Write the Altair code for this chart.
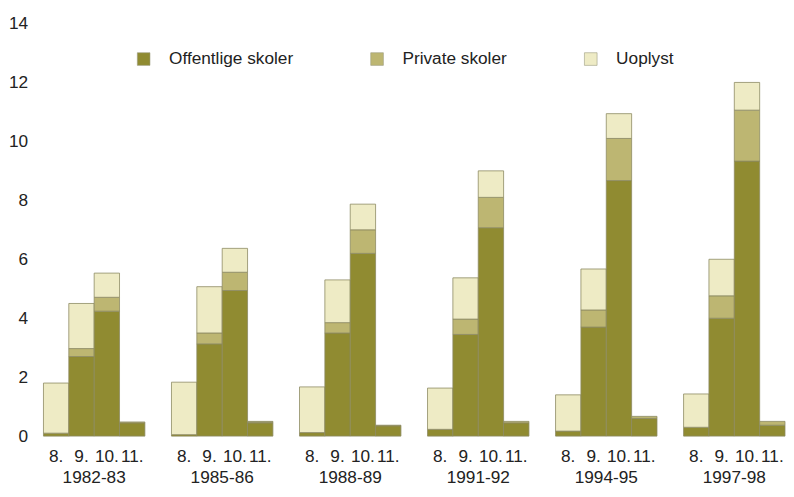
import altair as alt
import pandas as pd

periods = ["1982-83", "1985-86", "1988-89", "1991-92", "1994-95", "1997-98"]
grades = ["8.", "9.", "10.", "11."]
series = ["Offentlige skoler", "Private skoler", "Uoplyst"]
colors = ["#908b31", "#bdb672", "#eeebc5"]

# values per period, in grade order 8., 9., 10., 11.
offentlige = [
    [0.10, 2.70, 4.24, 0.45],
    [0.05, 3.13, 4.94, 0.45],
    [0.12, 3.50, 6.20, 0.35],
    [0.23, 3.45, 7.07, 0.45],
    [0.17, 3.70, 8.67, 0.60],
    [0.30, 4.00, 9.33, 0.37],
]
private = [
    [0.00, 0.27, 0.47, 0.03],
    [0.00, 0.37, 0.62, 0.03],
    [0.00, 0.35, 0.80, 0.02],
    [0.00, 0.52, 1.03, 0.05],
    [0.00, 0.58, 1.43, 0.07],
    [0.00, 0.76, 1.73, 0.13],
]
uoplyst = [
    [1.70, 1.53, 0.82, 0.00],
    [1.78, 1.57, 0.81, 0.02],
    [1.55, 1.45, 0.87, 0.00],
    [1.40, 1.40, 0.90, 0.00],
    [1.23, 1.39, 0.84, 0.00],
    [1.13, 1.24, 0.94, 0.00],
]

rows = []
for pi, p in enumerate(periods):
    for gi, g in enumerate(grades):
        for si, (s, arr) in enumerate(zip(series, [offentlige, private, uoplyst])):
            rows.append({"periode": p, "klasse": g, "type": s, "rang": si, "andel": arr[pi][gi]})
df = pd.DataFrame(rows)

FONT = "Liberation Sans, Arial, sans-serif"
FS = 17.5
TXT = "#222222"

base = alt.Chart(df).transform_filter("datum.andel > 0").mark_bar(
    stroke="#8c8a62", strokeWidth=0.8
).encode(
    x=alt.X("klasse:N", sort=grades,
            scale=alt.Scale(paddingInner=0, paddingOuter=0),
            axis=alt.Axis(title=None, labelAngle=0, ticks=False, domain=False,
                          labelPadding=11, labelFontSize=FS, labelColor=TXT,
                          labelFont=FONT)),
    y=alt.Y("andel:Q", stack="zero",
            scale=alt.Scale(domain=[0, 14]),
            axis=alt.Axis(title=None, values=[0, 2, 4, 6, 8, 10, 12, 14], grid=False,
                          ticks=False, domain=False, labelPadding=15, labelFontSize=FS,
                          labelColor=TXT, labelFont=FONT)),
    color=alt.Color("type:N", sort=series,
                    scale=alt.Scale(domain=series, range=colors),
                    legend=alt.Legend(title=None, orient="none", legendX=93, legendY=27,
                                      direction="horizontal", columns=3, columnPadding=76,
                                      symbolType="square", symbolSize=165,
                                      symbolStrokeColor="#9a9a80", symbolStrokeWidth=0.6,
                                      labelOffset=17, labelFontSize=FS, labelFont=FONT,
                                      labelColor=TXT)),
    order=alt.Order("rang:Q", sort="ascending"),
).properties(width=103, height=419)

chart = base.facet(
    column=alt.Column("periode:N", sort=periods,
                      header=alt.Header(title=None, labelOrient="bottom", labelFontSize=FS,
                                        labelFont=FONT, labelColor=TXT,
                                        labelPadding=4)),
    spacing=25,
).properties(
    padding={"left": 0, "top": 3, "right": 0, "bottom": 0}
).configure_view(stroke=None)

chart.save("out.html", embed_options={"renderer": "svg", "actions": False})
